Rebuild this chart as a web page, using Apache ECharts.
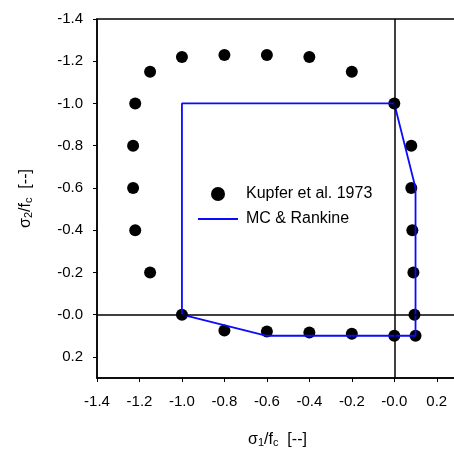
<!DOCTYPE html>
<html><head><meta charset="utf-8">
<script src="https://cdn.jsdelivr.net/npm/echarts@6/dist/echarts.min.js"></script>
<style>html,body{margin:0;padding:0;background:#fff}#c{width:454px;height:450px}</style>
</head><body><div id="c"></div>
<script>
const kupferS1 = [-1.0, -0.8, -0.6, -0.4, -0.2, -1.15, 0.0, -1.22, -1.23, -1.23, -1.22, -1.15, -1.0, -0.8, -0.6, -0.4, -0.2, 0.0, 0.1, 0.08, 0.08, 0.085, 0.09, 0.095];
const kupferS2 = [-1.22, -1.23, -1.23, -1.22, -1.15, -1.15, -1.0, -1.0, -0.8, -0.6, -0.4, -0.2, 0.0, 0.075, 0.08, 0.085, 0.09, 0.1, 0.1, -0.8, -0.6, -0.4, -0.2, 0.0];
const mcS1 = [-1.0, -1.0, 0.0, 0.1, 0.1, -0.6, -1.0];
const mcS2 = [0.0, -1.0, -1.0, -0.6, 0.1, 0.1, 0.0];
const tickValues = [-1.4, -1.2, -1.0, -0.8, -0.6, -0.4, -0.2, 0.0, 0.2];
const tickLabels = ['-1.4', '-1.2', '-1.0', '-0.8', '-0.6', '-0.4', '-0.2', '-0.0', '0.2'];
const seriesNames = ['Kupfer et al. 1973', 'MC & Rankine'];

const FONT = '"Liberation Sans", Arial, sans-serif';
function fmt(v) {
  for (let i = 0; i < tickValues.length; i++) if (Math.abs(tickValues[i] - v) < 1e-6) return tickLabels[i];
  return '';
}
const axisCommon = {
  min: -1.4, max: 0.3, interval: 0.2,
  axisLine: { show: true, onZero: false, lineStyle: { color: '#000', width: 1.5 } },
  axisTick: { show: true, inside: false, length: 4, customValues: tickValues, lineStyle: { color: '#000', width: 1 } },
  axisLabel: { customValues: tickValues, formatter: fmt, color: '#000', fontSize: 15, fontFamily: FONT },
  splitLine: { show: false },
  nameLocation: 'middle',
};
const nameRich = {
  s: { fontSize: 16, fontFamily: FONT, color: '#000', lineHeight: 20, verticalAlign: 'bottom' },
  sub: { fontSize: 11, fontFamily: FONT, color: '#000', lineHeight: 10, verticalAlign: 'bottom' }
};
const lineIcon = 'path://M0,0 L0.01,0 L0,0.01 Z M39.99,14 L40,14 L40,13.99 Z M0,6 L40,6 L40,8 L0,8 Z';
const chart = echarts.init(document.getElementById('c'), null, { renderer: 'canvas' });
chart.setOption({
  animation: false,
  grid: { left: 97, top: 19, bottom: 72, right: -4, outerBoundsMode: 'none', containLabel: false, show: true, borderColor: '#000', borderWidth: 1.5, backgroundColor: 'transparent' },
  xAxis: Object.assign({}, axisCommon, {
    type: 'value', position: 'bottom',
    axisLabel: Object.assign({}, axisCommon.axisLabel, { margin: 16 }),
    name: '{s|σ}{sub|1}{s|/f}{sub|c}{s|  [--]}', nameGap: 50,
    nameTextStyle: { rich: nameRich }
  }),
  yAxis: Object.assign({}, axisCommon, {
    type: 'value', position: 'left', inverse: true,
    axisLabel: Object.assign({}, axisCommon.axisLabel, { margin: 14 }),
    name: '{s|σ}{sub|2}{s|/f}{sub|c}{s|  [--]}', nameGap: 63,
    nameTextStyle: { rich: nameRich }
  }),
  legend: {
    data: [{ name: seriesNames[0], icon: 'circle' }, { name: seriesNames[1], icon: lineIcon }],
    orient: 'vertical', left: 198, top: 186, padding: 0,
    itemWidth: 40, itemHeight: 14, itemGap: 9,
    textStyle: { fontSize: 16, fontFamily: FONT, color: '#000', padding: [0, 0, 0, 3] }
  },
  series: [
    {
      type: 'line', name: 'zero', data: [], z: 1, silent: true,
      markLine: {
        silent: true, symbol: 'none', animation: false, label: { show: false },
        lineStyle: { color: '#000', width: 1.5, type: 'solid' },
        emphasis: { disabled: true },
        data: [{ xAxis: 0 }, { yAxis: 0 }]
      }
    },
    {
      type: 'scatter', name: seriesNames[0], z: 2, symbol: 'circle', symbolSize: 12,
      itemStyle: { color: '#000', opacity: 1 },
      data: kupferS1.map((x, i) => [x, kupferS2[i]])
    },
    {
      type: 'line', name: seriesNames[1], z: 3, symbol: 'none', showSymbol: false,
      lineStyle: { color: '#0a0aff', width: 1.8 }, itemStyle: { color: '#0a0aff' },
      data: mcS1.map((x, i) => [x, mcS2[i]])
    }
  ]
});
</script></body></html>
